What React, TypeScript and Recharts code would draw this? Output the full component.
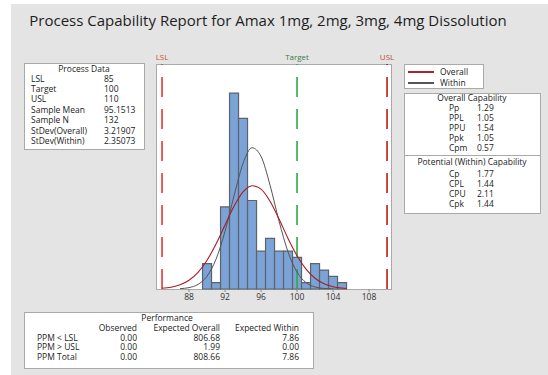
import React from "react";
import {
  ComposedChart,
  Line,
  XAxis,
  YAxis,
  ReferenceArea,
  ReferenceLine,
} from "recharts";

// histogram (bin centre -> count)
const binCenters = [90, 91, 92, 93, 94, 95, 96, 97, 98, 99, 100, 101, 102, 103, 104, 105];
const binCounts = [4, 1, 13, 31, 27, 14, 6, 8, 6, 6, 5, 1, 4, 3, 2, 1];

// fitted curves
const curveX = [85, 86, 87, 88, 89, 90, 91, 92, 93, 94, 95, 96, 97, 98, 99, 100, 101, 102, 103, 104, 105, 105.5];
const overallFit = [0.11, 0.29, 0.66, 1.39, 2.63, 4.55, 7.13, 10.13, 13.09, 15.35, 16.34, 15.8, 13.87, 11.06, 8.0, 5.26, 3.14, 1.7, 0.84, 0.37, 0.15, 0.09];
const withinFit = [null, null, 0.06, 0.22, 0.73, 2.03, 4.72, 9.13, 14.75, 19.87, 22.35, 20.98, 16.43, 10.74, 5.86, 2.67, 1.01, 0.32, 0.09, 0.02, null, null];

const xTicks = [88, 92, 96, 100, 104, 108];
const LSL = 85;
const TARGET = 100;
const USL = 110;

const processLabels = ["LSL", "Target", "USL", "Sample Mean", "Sample N", "StDev(Overall)", "StDev(Within)"];
const processValues = ["85", "100", "110", "95.1513", "132", "3.21907", "2.35073"];

const overallCapLabels = ["Pp", "PPL", "PPU", "Ppk", "Cpm"];
const overallCapValues = ["1.29", "1.05", "1.54", "1.05", "0.57"];
const withinCapLabels = ["Cp", "CPL", "CPU", "Cpk"];
const withinCapValues = ["1.77", "1.44", "2.11", "1.44"];

const perfRows = ["PPM < LSL", "PPM > USL", "PPM Total"];
const perfObserved = ["0.00", "0.00", "0.00"];
const perfExpOverall = ["806.68", "1.99", "808.66"];
const perfExpWithin = ["7.86", "0.00", "7.86"];

const FONT = '"Open Sans", "Noto Sans", sans-serif';
const TXT = "#222";
const SMALL = 8.5;

const curveData = curveX.map((x, i) => ({ x, overall: overallFit[i], within: withinFit[i] }));

function Txt({ x, y, children, anchor = "start", size = SMALL, color = TXT }: any) {
  const shift = anchor === "middle" ? "-50%" : anchor === "end" ? "-100%" : "0";
  return (
    <div
      style={{
        position: "absolute",
        left: x,
        top: y - size / 2,
        fontSize: size,
        lineHeight: `${size}px`,
        height: size,
        color,
        whiteSpace: "nowrap",
        transform: `translateX(${shift})`,
      }}
    >
      {children}
    </div>
  );
}

function Box({ x, y, w, h }: any) {
  return (
    <div
      style={{
        position: "absolute",
        left: x,
        top: y,
        width: w,
        height: h,
        boxSizing: "border-box",
        border: "1px solid #a9a9a9",
        background: "#fff",
      }}
    />
  );
}

export default function App() {
  const procY = [79, 89, 99, 110, 120, 131, 141];
  const ovY = [108, 118, 128, 138, 148];
  const wiY = [174, 184, 194, 204];
  const perfY = [338, 347.5, 357];

  return (
    <div
      style={{
        position: "absolute",
        left: 0,
        top: 0,
        width: 548,
        height: 375,
        background: "#fff",
        fontFamily: FONT,
        overflow: "hidden",
      }}
    >
      <div style={{ position: "absolute", left: 11, top: 4, right: 0, bottom: 0, background: "#e4e4e4" }} />

      <Txt x={268} y={20} anchor="middle" size={15} color="#1e1e1e">
        Process Capability Report for Amax 1mg, 2mg, 3mg, 4mg Dissolution
      </Txt>

      {/* plot frame */}
      <Box x={156} y={64} w={236} h={226} />

      <div style={{ position: "absolute", left: 156, top: 50 }}>
        <ComposedChart
          width={248}
          height={260}
          data={curveData}
          margin={{ top: 14, right: 12, bottom: 0, left: 0 }}
        >
          <XAxis
            type="number"
            dataKey="x"
            domain={[84.33, 110.55]}
            allowDataOverflow
            ticks={xTicks}
            axisLine={false}
            tickSize={3}
            tickLine={{ stroke: "#888" }}
            tick={{ fontSize: 8.5, fill: "#333", fontFamily: FONT }}
            height={21}
          />
          <YAxis hide domain={[0, 35.6]} allowDataOverflow />
          {binCenters.map((c, i) => (
            <ReferenceArea
              key={c}
              x1={c - 0.5}
              x2={c + 0.5}
              y1={0}
              y2={binCounts[i]}
              fill="#7ba3d7"
              fillOpacity={1}
              stroke="#5c636b"
              strokeWidth={1.2}
            />
          ))}
          <ReferenceLine
            x={LSL}
            stroke="#e03a3a"
            strokeWidth={1.6}
            strokeDasharray="20 12"
            label={{ value: "LSL", position: "top", fill: "#c9512e", fontSize: 8, fontFamily: FONT, offset: 4 }}
          />
          <ReferenceLine
            x={TARGET}
            stroke="#2fa84a"
            strokeWidth={1.6}
            strokeDasharray="20 12"
            label={{ value: "Target", position: "top", fill: "#3f7a45", fontSize: 8, fontFamily: FONT, offset: 4 }}
          />
          <ReferenceLine
            x={USL}
            stroke="#c21818"
            strokeWidth={1.6}
            strokeDasharray="20 12"
            label={{ value: "USL", position: "top", fill: "#c0483a", fontSize: 8, fontFamily: FONT, offset: 4 }}
          />
          <Line
            type="monotone"
            dataKey="within"
            stroke="#555"
            strokeWidth={1}
            dot={false}
            connectNulls={false}
            isAnimationActive={false}
          />
          <Line
            type="monotone"
            dataKey="overall"
            stroke="#a81c24"
            strokeWidth={1.1}
            dot={false}
            isAnimationActive={false}
          />
        </ComposedChart>
      </div>

      {/* process data */}
      <Box x={24} y={63} w={121} h={87} />
      <Txt x={84} y={69} anchor="middle">Process Data</Txt>
      {processLabels.map((l, i) => (
        <React.Fragment key={l}>
          <Txt x={31} y={procY[i]}>{l}</Txt>
          <Txt x={104} y={procY[i]}>{processValues[i]}</Txt>
        </React.Fragment>
      ))}

      {/* legend */}
      <Box x={404} y={64} w={80} h={25} />
      <div style={{ position: "absolute", left: 408, top: 71, width: 26, height: 1.5, background: "#b0222a" }} />
      <div style={{ position: "absolute", left: 408, top: 82, width: 26, height: 1.5, background: "#555" }} />
      <Txt x={440} y={72}>Overall</Txt>
      <Txt x={440} y={83}>Within</Txt>

      {/* capability */}
      <Box x={404} y={93} w={137} h={121} />
      <div style={{ position: "absolute", left: 404, top: 155, width: 137, height: 1, background: "#a9a9a9" }} />
      <Txt x={472} y={98} anchor="middle">Overall Capability</Txt>
      {overallCapLabels.map((l, i) => (
        <React.Fragment key={l}>
          <Txt x={449} y={ovY[i]}>{l}</Txt>
          <Txt x={477} y={ovY[i]}>{overallCapValues[i]}</Txt>
        </React.Fragment>
      ))}
      <Txt x={472} y={162} anchor="middle">Potential (Within) Capability</Txt>
      {withinCapLabels.map((l, i) => (
        <React.Fragment key={l}>
          <Txt x={449} y={wiY[i]}>{l}</Txt>
          <Txt x={477} y={wiY[i]}>{withinCapValues[i]}</Txt>
        </React.Fragment>
      ))}

      {/* performance */}
      <Box x={24} y={312} w={290} h={57} />
      <Txt x={167} y={318} anchor="middle">Performance</Txt>
      <Txt x={137} y={328} anchor="end">Observed</Txt>
      <Txt x={220} y={328} anchor="end">Expected Overall</Txt>
      <Txt x={299} y={328} anchor="end">Expected Within</Txt>
      {perfRows.map((r, i) => (
        <React.Fragment key={r}>
          <Txt x={37} y={perfY[i]}>{r}</Txt>
          <Txt x={137} y={perfY[i]} anchor="end">{perfObserved[i]}</Txt>
          <Txt x={220} y={perfY[i]} anchor="end">{perfExpOverall[i]}</Txt>
          <Txt x={299} y={perfY[i]} anchor="end">{perfExpWithin[i]}</Txt>
        </React.Fragment>
      ))}
    </div>
  );
}
